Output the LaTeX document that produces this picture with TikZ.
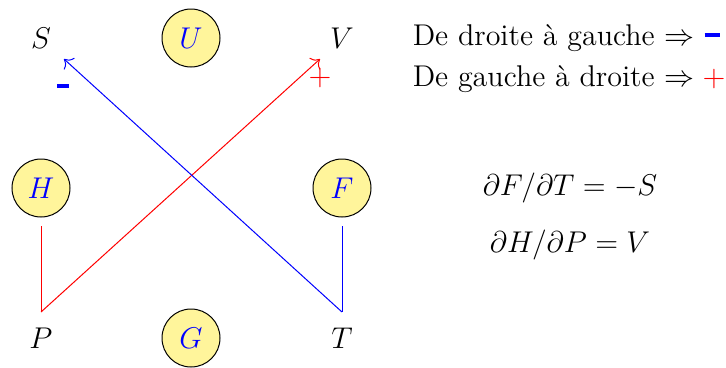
\documentclass[tikz,border=0pt]{standalone}
\usetikzlibrary{arrows.meta}
\definecolor{potfill}{RGB}{255,245,155}
\tikzset{
  pot/.style={circle,draw=black,fill=potfill,text=blue,minimum size=58*0.4pt,inner sep=0pt,font=\large},
  var/.style={font=\large,inner sep=0pt},
  minusbar/.style={inner sep=0pt,text=blue},
  plussign/.style={inner sep=0pt,text=red,font=\large},
  legend/.style={font=\large,inner sep=0pt,anchor=east},
}
\begin{document}
\begin{tikzpicture}[x=0.4pt,y=-0.4pt]
\useasboundingbox (0,0) rectangle (726,367);
\node[var] (S) at (41,38) {$S$};
\node[pot] (U) at (191,38) {$U$};
\node[var] (V) at (342,38) {$V$};
\node[pot] (H) at (41,188) {$H$};
\node[pot] (F) at (342,188) {$F$};
\node[var] (P) at (41,338) {$P$};
\node[pot] (G) at (191,338) {$G$};
\node[var] (T) at (342,338) {$T$};
\coordinate (Pc) at (41,312);
\coordinate (Tc) at (342,312);
\coordinate (Ht) at (41,226);
\coordinate (Ft) at (342,226);
\coordinate (Sa) at (64,59);
\coordinate (Va) at (320,59);
\draw[red] (Ht) -- (Pc);
\draw[red,-{To[length=3pt]}] (Pc) -- (Va);
\draw[blue] (Ft) -- (Tc);
\draw[blue,-{To[length=3pt]}] (Tc) -- (Sa);
\node[minusbar] (m1) at (63,86) {\rule{4.8pt}{1.6pt}};
\node[plussign] (p1) at (320,78) {$+$};
\node[legend] (l1) at (695,38) {De droite à gauche $\Rightarrow$};
\node[minusbar,anchor=west] (m2) at (704,35) {\rule{6pt}{1.6pt}};
\node[legend] (l2) at (695,79) {De gauche à droite $\Rightarrow$};
\node[plussign,anchor=west] (p2) at (702,79) {$+$};
\node[font=\large,inner sep=0pt] (e1) at (570,188) {$\partial F/\partial T = -S$};
\node[font=\large,inner sep=0pt] (e2) at (570,245) {$\partial H/\partial P = V$};
\end{tikzpicture}
\end{document}
